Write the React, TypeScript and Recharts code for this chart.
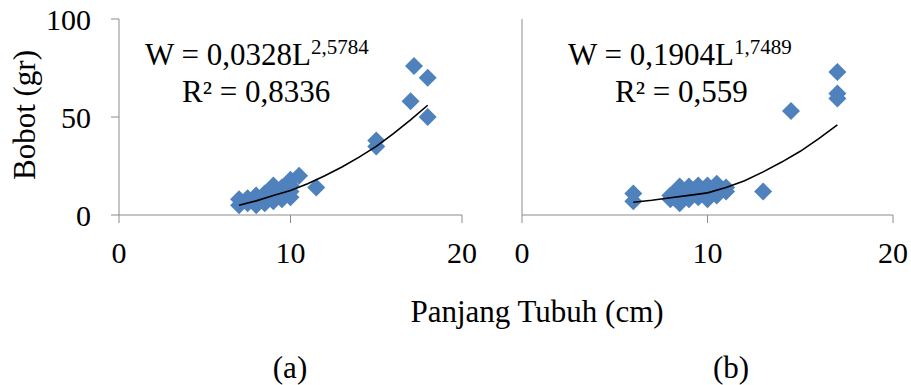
import React from "react"
import { ScatterChart, Scatter, XAxis, YAxis } from "recharts"

// panel (a): length (cm) vs weight (gr)
const lengthA = [7, 7, 7.5, 7.5, 8, 8, 8, 8.5, 8.5, 8.5, 9, 9, 9, 9, 9.5, 9.5, 9.5, 10, 10, 10, 10, 10.5, 11.5, 15, 15, 17, 17.2, 18, 18]
const weightA = [5, 8, 6, 8.5, 5, 8, 10, 6, 9, 11, 7, 10, 13, 15, 8, 11, 14, 9, 12, 15, 18, 20, 14, 35, 38, 58, 76, 70, 50]

// panel (b)
const lengthB = [6, 6, 8, 8, 8.3, 8.5, 8.5, 8.5, 9, 9, 9, 9.5, 9.5, 9.5, 10, 10, 10, 10.5, 10.5, 10.5, 11, 11, 13, 14.5, 17, 17, 17]
const weightB = [11, 7, 8, 10, 12, 6, 9, 14.5, 8, 11, 14.5, 9, 12, 15, 8, 11, 15, 10, 13, 16, 12, 14, 12, 53, 73, 62, 59.5]

// trend curves
const trendXA = [7, 8, 9, 10, 11, 12, 13, 14, 15, 16, 17, 18]
const trendYA = [5, 7.2, 9.9, 12.5, 16, 20, 24.5, 29.5, 35, 41.5, 48.5, 56]
const trendXB = [6, 7, 8, 9, 10, 11, 12, 13, 14, 15, 16, 17]
const trendYB = [6.5, 7.5, 8.8, 10, 11.3, 14, 17.5, 22, 27, 32.5, 39, 46]

const xTicks = [0, 10, 20]
const yTicksA = [0, 50, 100]
const yTicksB = [0, 12.5, 25, 37.5, 50, 62.5, 75, 87.5, 100]

const FONT = "Liberation Serif, serif"
const AXIS = "#8c8c8c"
const BLUE = "#4F81BD"

const zip = (xs: number[], ys: number[]) => xs.map((x, i) => ({ x, y: ys[i] }))

const Diamond = (props: any) => {
  const { cx, cy } = props
  if (cx == null || cy == null) return <g />
  const r = 9
  return <polygon points={`${cx},${cy - r} ${cx + r},${cy} ${cx},${cy + r} ${cx - r},${cy}`} fill={BLUE} />
}

const tickStyle = { fontSize: 30, fill: "#000", fontFamily: FONT }

function Panel({ points, trend, showYLabels, yTicks, yWidth, width }: any) {
  return (
    <ScatterChart width={width} height={285} margin={{ top: 19, right: 18, bottom: 0, left: 0 }}>
      <XAxis
        type="number"
        dataKey="x"
        domain={[0, 20]}
        ticks={xTicks}
        height={70}
        tickSize={8}
        tickMargin={19}
        tick={tickStyle}
        axisLine={{ stroke: AXIS }}
        tickLine={{ stroke: AXIS }}
      />
      <YAxis
        type="number"
        dataKey="y"
        domain={[0, 100]}
        ticks={yTicks}
        width={yWidth}
        tickSize={showYLabels ? 8 : 4}
        tickMargin={20}
        tick={showYLabels ? tickStyle : false}
        axisLine={{ stroke: AXIS }}
        tickLine={{ stroke: AXIS }}
      />
      <Scatter data={points} shape={Diamond} isAnimationActive={false} />
      <Scatter
        data={trend}
        shape={() => <g />}
        line={{ stroke: "#000", strokeWidth: 1.6 }}
        lineType="joint"
        isAnimationActive={false}
      />
    </ScatterChart>
  )
}

export default function App() {
  return (
    <div style={{ position: "absolute", left: 0, top: 0, width: 911, height: 385, background: "#fff", fontFamily: FONT }}>
      <div style={{ position: "absolute", left: 0, top: 0 }}>
        <Panel points={zip(lengthA, weightA)} trend={zip(trendXA, trendYA)} showYLabels yTicks={yTicksA} yWidth={119} width={480} />
      </div>
      <div style={{ position: "absolute", left: 480, top: 0 }}>
        <Panel points={zip(lengthB, weightB)} trend={zip(trendXB, trendYB)} showYLabels={false} yTicks={yTicksB} yWidth={42} width={431} />
      </div>
      <svg width={911} height={385} style={{ position: "absolute", left: 0, top: 0, pointerEvents: "none" }} fontFamily={FONT} fill="#000">
        <text x={145} y={65} fontSize={31}>
          W = 0,0328L<tspan fontSize={21} dy={-11}>2,5784</tspan>
        </text>
        <text x={182} y={102} fontSize={31}>R² = 0,8336</text>
        <text x={568} y={65} fontSize={31}>
          W = 0,1904L<tspan fontSize={21} dy={-11}>1,7489</tspan>
        </text>
        <text x={615} y={102} fontSize={31}>R² = 0,559</text>
        <text transform="translate(35,115) rotate(-90)" textAnchor="middle" fontSize={31}>Bobot (gr)</text>
        <text x={537} y={322} textAnchor="middle" fontSize={31}>Panjang Tubuh (cm)</text>
        <text x={290} y={378} textAnchor="middle" fontSize={31}>(a)</text>
        <text x={731} y={378} textAnchor="middle" fontSize={31}>(b)</text>
      </svg>
    </div>
  )
}
